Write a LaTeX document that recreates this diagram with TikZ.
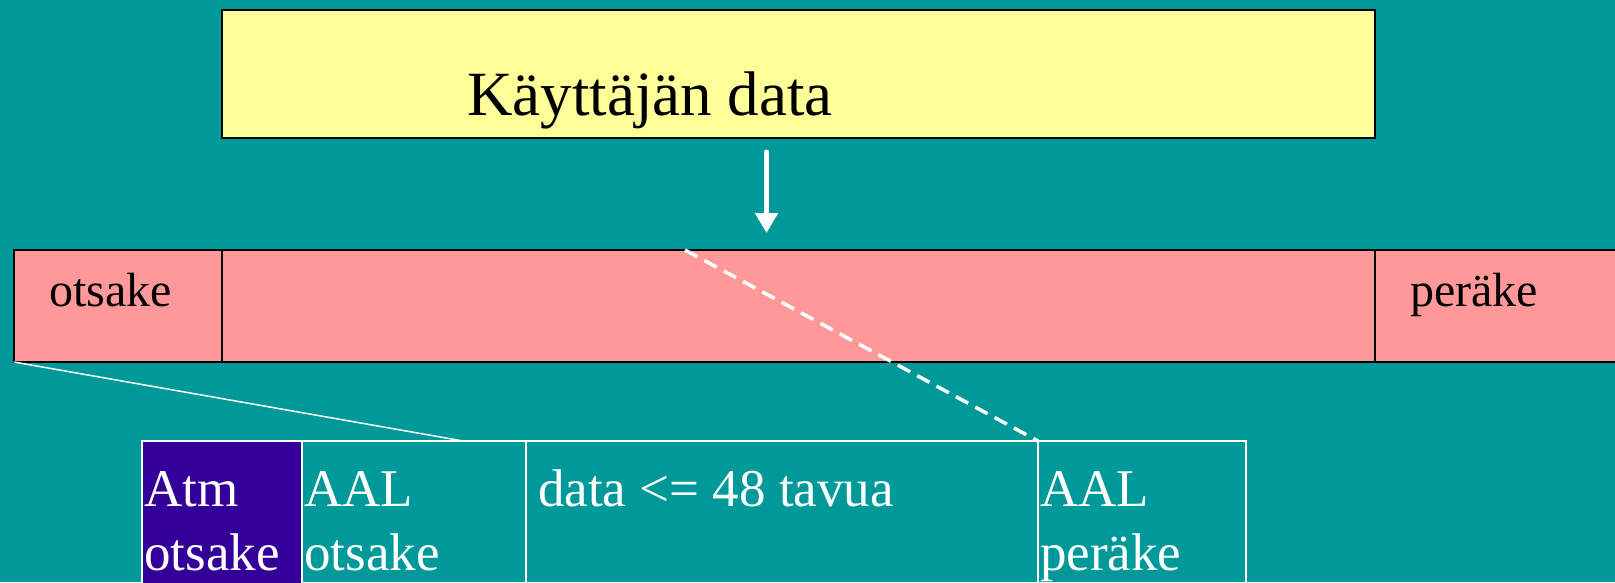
\documentclass[tikz,border=0pt]{standalone}
\usepackage{fontspec}
\setmainfont{Liberation Serif}
\usetikzlibrary{positioning,calc,arrows.meta}
\definecolor{slidebg}{HTML}{009999}
\definecolor{userfill}{HTML}{FFFF99}
\definecolor{framefill}{HTML}{FF9999}
\definecolor{atmfill}{HTML}{330099}

\begin{document}
\begin{tikzpicture}[x=1pt,y=-1pt,
    box/.style={draw=black, line width=2pt, inner sep=0pt, outer sep=0pt, anchor=north west},
    field/.style={box, fill=framefill, minimum height=112pt},
    cell/.style={draw=white, line width=1.5pt, inner sep=0pt, outer sep=0pt, anchor=north west, minimum height=160pt},
    bartext/.style={font=\fontsize{48}{58}\selectfont, anchor=base west, inner sep=0pt},
    celltext/.style={text=white, font=\fontsize{53}{64}\selectfont, align=left, anchor=base west, inner sep=0pt},
    flow/.style={white, line width=5pt, line cap=round, -{Triangle[width=22pt,length=20pt]}},
  ]
    % tausta
    \useasboundingbox (0,0) rectangle (1615,582);
    \clip (0,0) rectangle (1615,582);
    \fill[slidebg] (0,0) rectangle (1615,582);

    % käyttäjän data
    \node[box, fill=userfill, line width=2.5pt, minimum width=1153pt, minimum height=128pt] (user) at (222,10) {};
    \node[anchor=base west, inner sep=0pt, font=\fontsize{63}{76}\selectfont] (usertext) at (467,115) {Käyttäjän data};

    % kehys: otsake, data, peräke
    \node[field, minimum width=208pt] (head) at (14,250) {};
    \node[field, minimum width=1153pt, right=0pt of head] (payload) {};
    \node[field, minimum width=260pt, right=0pt of payload] (trail) {};
    \node[bartext] (headtext) at ([xshift=35pt]head.west) {otsake};
    \node[bartext] (trailtext) at ([xshift=35pt]trail.west) {peräke};

    \draw[flow] ($(user.south)+(-32,14)$) -- ($(user.south |- payload.north)+(-32,-17)$);

    % solu
    \node[cell, fill=atmfill, minimum width=160pt] (atm) at (142,441) {};
    \node[cell, minimum width=224pt, right=0pt of atm] (aalhead) {};
    \node[cell, minimum width=512pt, right=0pt of aalhead] (celldata) {};
    \node[cell, minimum width=208pt, right=0pt of celldata] (aaltrail) {};

    % base = viimeisen rivin pohjaviiva
    \node[celltext] (atmtext) at ([xshift=2pt,yshift=-129pt]atm.north west) {Atm\\otsake};
    \node[celltext] (aalheadtext) at ([xshift=2pt,yshift=-129pt]aalhead.north west) {AAL\\otsake};
    \node[celltext] (celldatatext) at ([xshift=12pt,yshift=-65pt]celldata.north west) {data <= 48 tavua};
    \node[celltext] (aaltrailtext) at ([xshift=2pt,yshift=-129pt]aaltrail.north west) {AAL\\peräke};

    % suurennusviivat
    \coordinate (cut) at ([xshift=463pt]payload.north west);
    \draw[white, line width=1.5pt] (head.south west) -- ([xshift=161pt]aalhead.north west);
    \draw[white, line width=3.5pt, dash pattern=on 14pt off 8pt] (cut) -- (aaltrail.north west);
\end{tikzpicture}
\end{document}
